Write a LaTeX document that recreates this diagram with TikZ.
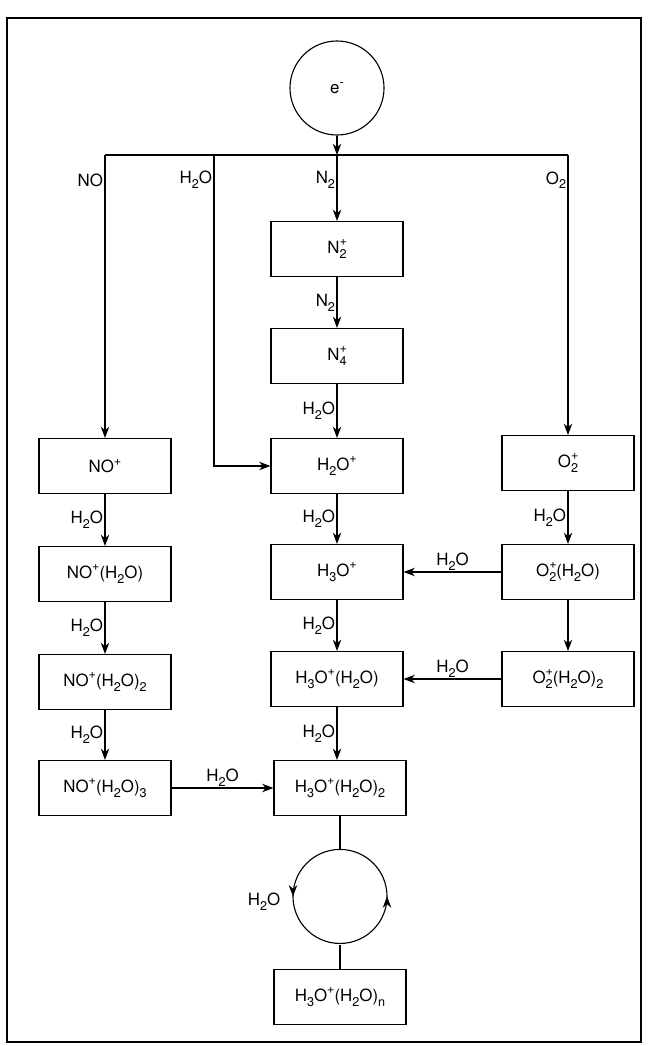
\documentclass[tikz,border=0pt]{standalone}
\usepackage{fontspec}
\setmainfont{TeX Gyre Heros}
\usetikzlibrary{arrows.meta, decorations.markings}
\newcommand{\chsub}[1]{\raisebox{-0.55ex}{\fontsize{9}{10}\selectfont #1}}
\newcommand{\chsup}[1]{\raisebox{0.85ex}{\fontsize{9}{10}\selectfont #1}}
\newcommand{\chboth}[2]{\rlap{\chsup{#1}}\chsub{#2}}
\newcommand{\water}{H\chsub{2}O}
\tikzset{
	species/.style={
		draw,
		rectangle,
		inner sep=0pt,
		minimum width=3.3cm,
		minimum height=1.375cm
	},
	lbl/.style={inner sep=1pt}
}

\begin{document}
\begin{tikzpicture}[x=0.025cm, y=-0.025cm, font=\fontsize{12}{14}\selectfont, line width=0.8pt]
		\tikzset{edge/.style={-{Stealth[length=8pt,width=6pt,inset=2.5pt]}}}
		\tikzset{turn/.style={postaction={decorate}, decoration={markings,
			mark=at position 0.25 with {\arrow{Stealth[length=8pt,width=6pt,inset=2.5pt]}},
			mark=at position 0.75 with {\arrow{Stealth[length=8pt,width=6pt,inset=2.5pt]}}}}}
		
		\useasboundingbox (0,0) rectangle (647,1046);
		\draw[line width=1pt] (7,18) rectangle (641,1042);
		
		\node(e) at (337,88) [draw,circle,minimum size=2.35cm] {e\chsup{-}};
		
		\coordinate(split) at (337,155);
		\coordinate(splitNO) at (105,155);
		\coordinate(splitW) at (214,155);
		\coordinate(splitO) at (568,155);
		
		\node(N2p) at (337,249) [species] {N\chboth{+}{2}};
		\node(N4p) at (337,356) [species] {N\chboth{+}{4}};
		
		\node(NOp) at (105,466) [species] {NO\chsup{+}};
		\node(H2Op) at (337,466) [species] {H\chsub{2}O\chsup{+}};
		\node(O2p) at (568,463) [species] {O\chboth{+}{2}};
		
		\node(NOp1) at (105,574) [species] {NO\chsup{+}(H\chsub{2}O)};
		\node(H3Op) at (337,572) [species] {H\chsub{3}O\chsup{+}};
		\node(O2p1) at (568,572) [species] {O\chboth{+}{2}(H\chsub{2}O)};
		
		\node(NOp2) at (105,682) [species] {NO\chsup{+}(H\chsub{2}O)\chsub{2}};
		\node(H3Op1) at (337,679) [species] {H\chsub{3}O\chsup{+}(H\chsub{2}O)};
		\node(O2p2) at (568,679) [species] {O\chboth{+}{2}(H\chsub{2}O)\chsub{2}};
		
		\node(NOp3) at (105,788) [species] {NO\chsup{+}(H\chsub{2}O)\chsub{3}};
		\node(H3Op2) at (340,788) [species] {H\chsub{3}O\chsup{+}(H\chsub{2}O)\chsub{2}};
		
		\node(loop) at (340,897) [circle,minimum size=2.35cm] {};
		\node(loopw) at (264,902) {\water};
		\node(H3Opn) at (340,997) [species] {H\chsub{3}O\chsup{+}(H\chsub{2}O)\chsub{n}};
		
		\draw (splitNO) -- (splitO);
		\draw[edge] (e) -- (split);
		\draw[edge] (splitNO) -- node[lbl,left,pos=0.09] {NO} (NOp);
		\draw[edge] (splitW) |- node[lbl,left,pos=0.04] {\water} (H2Op);
		\draw[edge] (split) -- node[lbl,left,pos=0.38] {N\chsub{2}} (N2p);
		\draw[edge] (splitO) -- node[lbl,left,pos=0.09] {O\chsub{2}} (O2p);
		
		\draw[edge] (N2p) -- node[lbl,left] {N\chsub{2}} (N4p);
		\draw[edge] (N4p) -- node[lbl,left] {\water} (H2Op);
		\draw[edge] (H2Op) -- node[lbl,left] {\water} (H3Op);
		\draw[edge] (H3Op) -- node[lbl,left] {\water} (H3Op1);
		\draw[edge] (H3Op1.south) -- node[lbl,left] {\water} (H3Op1.south |- H3Op2.north);
		
		\draw[edge] (NOp) -- node[lbl,left] {\water} (NOp1);
		\draw[edge] (NOp1) -- node[lbl,left] {\water} (NOp2);
		\draw[edge] (NOp2) -- node[lbl,left] {\water} (NOp3);
		
		\draw[edge] (O2p) -- node[lbl,left] {\water} (O2p1);
		\draw[edge] (O2p1) -- (O2p2);
		
		\draw[edge] (O2p1.west) -- node[lbl,above] {\water} (H3Op.east |- O2p1.west);
		\draw[edge] (O2p2.west) -- node[lbl,above] {\water} (H3Op1.east |- O2p2.west);
		\draw[edge] (NOp3) -- node[lbl,above] {\water} (H3Op2);
		
		\draw (H3Op2) -- (loop);
		\draw[turn] (loop.north) arc[start angle=90, delta angle=360, radius=1.175cm];
		\draw (loop) -- (H3Opn);
\end{tikzpicture}
\end{document}
